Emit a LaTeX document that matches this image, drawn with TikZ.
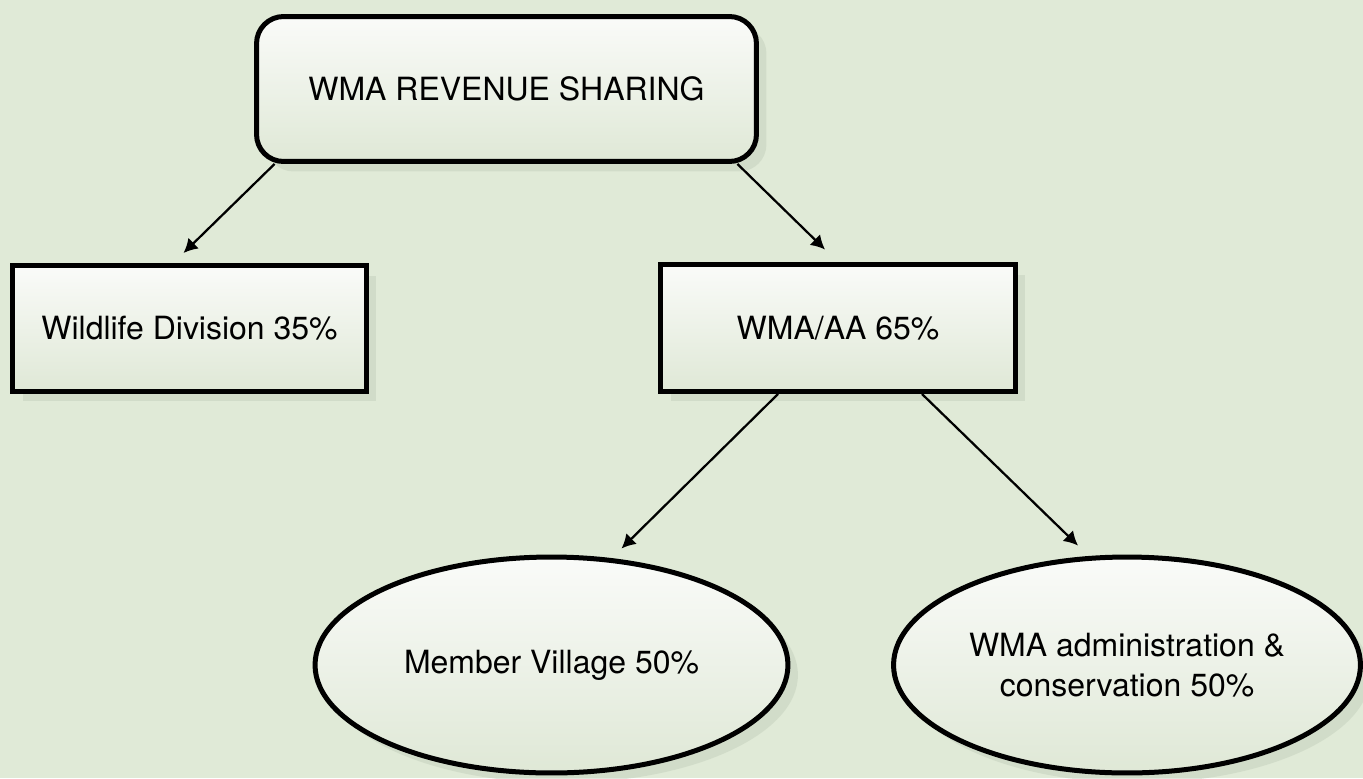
\documentclass[tikz,border=0pt]{standalone}
\usepackage{fontspec}
\setmainfont{TeX Gyre Heros}
\usetikzlibrary{shapes.geometric,shadows,arrows.meta}
\definecolor{bgcol}{RGB}{224,234,215}
\definecolor{toptint}{RGB}{250,251,249}
\definecolor{bottint}{RGB}{223,232,214}
\definecolor{shadecol}{RGB}{196,208,188}

\begin{document}
\begin{tikzpicture}[x=0.02cm,y=-0.02cm,arr/.style={draw,-{Latex[length=0.28cm,width=0.3cm]},line width=0.045cm}]
    \tikzset{every node/.style={font=\fontsize{18.2pt}{22.8pt}\selectfont,align=center,line width=0.1cm,
        top color=toptint,bottom color=bottint,
        drop shadow={shadow xshift=0.2cm,shadow yshift=-0.2cm,fill=shadecol,opacity=0.5}}}
    \fill[bgcol] (0,0) rectangle (1363,778);
    \useasboundingbox (0,0) rectangle (1363,778);

    \node [rectangle,draw,rounded corners=0.54cm,minimum width=10cm,minimum height=2.9cm] (rev) at (506.5,89) {WMA REVENUE SHARING};
    \node [rectangle,draw,minimum width=7.08cm,minimum height=2.52cm] (wd) at (189.5,328.5) {Wildlife Division 35\%};
    \node [rectangle,draw,minimum width=7.1cm,minimum height=2.54cm] (aa) at (838,328) {WMA/AA 65\%};

    \node [ellipse,draw,inner sep=0pt,minimum width=9.46cm,minimum height=4.32cm] (mv) at (551.5,665) {Member Village 50\%};
    \node [ellipse,draw,inner sep=0pt,minimum width=9.34cm,minimum height=4.32cm] (wc) at (1127,665) {WMA administration \&\\conservation 50\%};

    \draw[arr] ([xshift=0.41cm]rev.south west) -- ([xshift=-0.12cm,yshift=0.2cm]wd.north);
    \draw[arr] ([xshift=-0.43cm]rev.south east) -- ([xshift=-0.26cm,yshift=0.25cm]aa.north);
    \draw[arr] ([xshift=-1.2cm]aa.south) -- ([xshift=1.4cm,yshift=0.12cm]mv.north);
    \draw[arr] ([xshift=1.68cm]aa.south) -- ([xshift=-0.98cm,yshift=0.18cm]wc.north);

\end{tikzpicture}
\end{document}
